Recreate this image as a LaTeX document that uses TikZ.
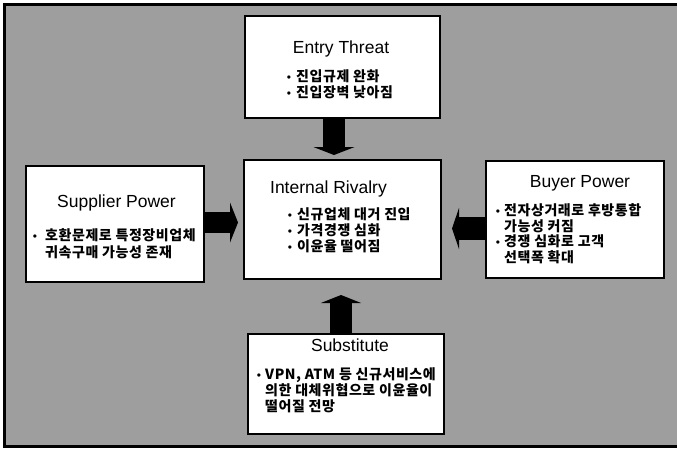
\documentclass[tikz,border=0pt]{standalone}
\usepackage{fontspec}
\setmainfont{Liberation Sans}
\newfontfamily\kr{Noto Sans CJK KR}[LetterSpace=4]
\usetikzlibrary{arrows.meta}
\definecolor{bg}{gray}{0.62}
\tikzset{
  box/.style={draw=black, line width=1.6pt, fill=white, inner sep=0pt, anchor=north west},
  ttl/.style={font=\fontsize{17.5}{20}\selectfont, anchor=base, inner sep=0pt},
  kline/.style={font=\kr\bfseries\fontsize{14}{16}\selectfont, anchor=base west, inner sep=0pt},
  bul/.style={font=\fontsize{12}{14}\selectfont, anchor=base, inner sep=0pt},
  blockarrow/.style={black, line width=22pt, -{Triangle[length=8pt,width=41pt]}}
}
\begin{document}
\begin{tikzpicture}[x=1pt,y=-1pt]
\useasboundingbox (0,0) rectangle (677,450);
\fill[bg] (4,4) rectangle (677,447);
\draw[line width=3pt] (677,4.5) -- (4.5,4.5) -- (4.5,446.5) -- (677,446.5);

% boxes
\node[box, minimum width=195pt, minimum height=102pt] (entry) at (244,15) {};
\node[box, minimum width=197pt, minimum height=119pt] (rival) at (243,159) {};
\node[box, minimum width=178pt, minimum height=116pt] (supp) at (25,165) {};
\node[box, minimum width=178pt, minimum height=117pt] (buyer) at (485,160) {};
\node[box, minimum width=196pt, minimum height=100pt] (subst) at (247,333) {};

% arrows
\coordinate (dtip) at (334,155);
\coordinate (utip) at (341,295);
\coordinate (rtip) at (238,222.5);
\coordinate (ltip) at (452,228.5);
\draw[blockarrow] (entry.south -| dtip) -- (dtip);
\draw[blockarrow, -{Triangle[length=8pt,width=40pt]}] (subst.north -| utip) -- (utip);
\draw[blockarrow, line width=21pt, -{Triangle[length=8pt,width=40pt]}] (supp.east |- rtip) -- (rtip);
\draw[blockarrow, line width=23pt, -{Triangle[length=7pt,width=41pt]}] (buyer.west |- ltip) -- (ltip);

% titles
\node[ttl] (tentry) at (341,53) {Entry Threat};
\node[ttl] (trival) at (328.5,193) {Internal Rivalry};
\node[ttl] (tsupp) at (116.5,207) {Supplier Power};
\node[ttl] (tbuyer) at (580,187) {Buyer Power};
\node[ttl] (tsubst) at (350,351.5) {Substitute};

% entry text
\node[bul] (eb1) at (289,81) {•};
\node[kline] (e1) at (296,81) {진입규제 완화};
\node[bul] (eb2) at (289,97.5) {•};
\node[kline] (e2) at (296,97.5) {진입장벽 낮아짐};

% rivalry text
\node[bul] (rb1) at (290,219) {•};
\node[kline] (r1) at (297,219) {신규업체 대거 진입};
\node[bul] (rb2) at (290,235) {•};
\node[kline] (r2) at (297,235) {가격경쟁 심화};
\node[bul] (rb3) at (290,251) {•};
\node[kline] (r3) at (297,251) {이윤율 떨어짐};

% supplier text
\node[bul] (sb1) at (35,240.5) {•};
\node[kline] (s1) at (45,240.5) {호환문제로 특정장비업체};
\node[kline] (s2) at (45,257) {귀속구매 가능성 존재};

% buyer text
\node[bul] (bb1) at (498,215.5) {•};
\node[kline] (b1) at (504,215.5) {전자상거래로 후방통합};
\node[kline] (b2) at (504,231) {가능성 커짐};
\node[bul] (bb2) at (498,246.5) {•};
\node[kline] (b3) at (504,246.5) {경쟁 심화로 고객};
\node[kline] (b4) at (504,262) {선택폭 확대};

% substitute text
\node[bul] (ub1) at (259,379) {•};
\node[kline] (u1) at (265,379) {VPN, ATM 등 신규서비스에};
\node[kline] (u2) at (265,395) {의한 대체위협으로 이윤율이};
\node[kline] (u3) at (265,411) {떨어질 전망};
\end{tikzpicture}
\end{document}
